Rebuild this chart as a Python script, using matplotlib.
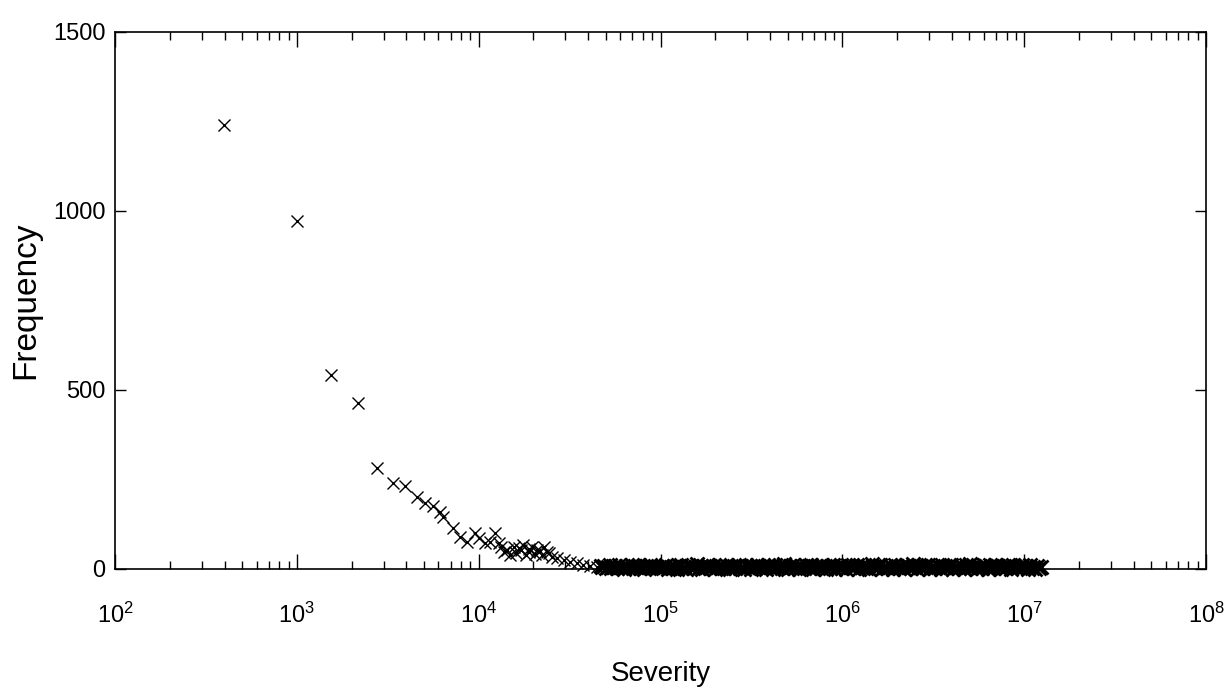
import matplotlib
matplotlib.use("Agg")
import matplotlib.pyplot as plt
from matplotlib.ticker import LogLocator, FixedLocator, NullLocator

plt.rcParams["font.family"] = ["Liberation Sans", "DejaVu Sans"]

# --- Data (severity, frequency) ---
head_severity = [
    395, 1000, 1545, 2173, 2754, 3373, 3944, 4575, 5077, 5641, 6137, 6400,
    7265, 7906, 8605, 9570, 9980, 10860, 11570, 12330, 12860, 13200, 13690,
    14290, 14800, 15540, 16000, 16560, 17000, 17630, 18200, 18790, 19000,
    19630, 20300, 20910, 21800, 22200, 22720, 23710, 24500, 25280, 26930,
    29270, 31860, 34660, 37690, 41020, 44650,
]
head_frequency = [
    1238, 972, 542, 463, 281, 239, 231, 200, 183, 176, 158, 146,
    114, 90, 76, 100, 86, 72, 76, 100, 72, 60, 48,
    53, 38, 62, 45, 58, 52, 67, 40, 48, 55,
    62, 42, 53, 50, 38, 62, 48, 45, 34, 30,
    25, 20, 16, 11, 8, 6,
]

# dense band of low counts, 4.7e4 .. 1.2e7
tail_severity = [
    4.68e4, 4.77e4, 4.89e4, 5.02e4, 5.12e4, 5.26e4, 5.36e4, 5.51e4, 5.61e4,
    5.76e4, 5.88e4, 6.04e4, 6.16e4, 6.32e4, 6.45e4, 6.62e4, 6.75e4, 6.93e4,
    7.07e4, 7.25e4, 7.40e4, 7.60e4, 7.75e4, 7.95e4, 8.12e4, 8.33e4, 8.50e4,
    8.72e4, 8.90e4, 9.13e4, 9.32e4, 9.56e4, 9.76e4,
    1.00e5, 1.02e5, 1.05e5, 1.07e5, 1.10e5, 1.12e5, 1.15e5, 1.18e5, 1.20e5,
    1.23e5, 1.26e5, 1.29e5, 1.32e5, 1.35e5, 1.38e5, 1.41e5, 1.45e5, 1.48e5,
    1.51e5, 1.55e5, 1.58e5, 1.62e5, 1.66e5, 1.70e5, 1.74e5, 1.78e5, 1.82e5,
    1.86e5, 1.91e5, 1.95e5, 2.00e5, 2.04e5, 2.09e5, 2.14e5, 2.19e5, 2.24e5,
    2.29e5, 2.34e5, 2.40e5, 2.45e5, 2.51e5, 2.57e5, 2.63e5, 2.69e5, 2.75e5,
    2.82e5, 2.88e5, 2.95e5, 3.02e5, 3.09e5, 3.16e5, 3.24e5, 3.31e5, 3.39e5,
    3.47e5, 3.55e5, 3.63e5, 3.72e5, 3.80e5, 3.89e5, 3.98e5, 4.07e5, 4.17e5,
    4.27e5, 4.37e5, 4.47e5, 4.57e5, 4.68e5, 4.79e5, 4.90e5, 5.01e5, 5.13e5,
    5.25e5, 5.37e5, 5.50e5, 5.62e5, 5.75e5, 5.89e5, 6.03e5, 6.17e5, 6.31e5,
    6.46e5, 6.61e5, 6.76e5, 6.92e5, 7.08e5, 7.24e5, 7.41e5, 7.59e5, 7.76e5,
    7.94e5, 8.13e5, 8.32e5, 8.51e5, 8.71e5, 8.91e5, 9.12e5, 9.33e5, 9.55e5,
    9.77e5,
    1.00e6, 1.02e6, 1.05e6, 1.07e6, 1.10e6, 1.12e6, 1.15e6, 1.18e6, 1.20e6,
    1.23e6, 1.26e6, 1.29e6, 1.32e6, 1.35e6, 1.38e6, 1.41e6, 1.45e6, 1.48e6,
    1.51e6, 1.55e6, 1.58e6, 1.62e6, 1.66e6, 1.70e6, 1.74e6, 1.78e6, 1.82e6,
    1.86e6, 1.91e6, 1.95e6, 2.00e6, 2.04e6, 2.09e6, 2.14e6, 2.19e6, 2.24e6,
    2.29e6, 2.34e6, 2.40e6, 2.45e6, 2.51e6, 2.57e6, 2.63e6, 2.69e6, 2.75e6,
    2.82e6, 2.88e6, 2.95e6, 3.02e6, 3.09e6, 3.16e6, 3.24e6, 3.31e6, 3.39e6,
    3.47e6, 3.55e6, 3.63e6, 3.72e6, 3.80e6, 3.89e6, 3.98e6, 4.07e6, 4.17e6,
    4.27e6, 4.37e6, 4.47e6, 4.57e6, 4.68e6, 4.79e6, 4.90e6, 5.01e6, 5.13e6,
    5.25e6, 5.37e6, 5.50e6, 5.62e6, 5.75e6, 5.89e6, 6.03e6, 6.17e6, 6.31e6,
    6.46e6, 6.61e6, 6.76e6, 6.92e6, 7.08e6, 7.24e6, 7.41e6, 7.59e6, 7.76e6,
    7.94e6, 8.13e6, 8.32e6, 8.51e6, 8.71e6, 8.91e6, 9.12e6, 9.33e6, 9.55e6,
    9.77e6,
    1.00e7, 1.02e7, 1.05e7, 1.07e7, 1.10e7, 1.12e7, 1.15e7, 1.18e7, 1.20e7,
    1.23e7,
]
tail_frequency = [
    7, 4, 9, 3, 6, 10, 2, 5, 8, 3, 12, 4, 6, 1, 9, 5, 3, 11, 2, 7, 4, 10, 3,
    6, 1, 8, 5, 12, 2, 4, 9, 3, 6,
    2, 8, 4, 11, 1, 6, 3, 9, 5, 0, 7, 12, 3, 5, 1, 10, 4, 8, 2, 6,
    13, 3, 7, 1, 9, 4, 11, 2, 5, 8, 0, 6, 10, 3, 7, 2, 12, 4, 1, 9,
    5, 3, 8, 11, 2, 6, 0, 10, 4, 7, 1, 9, 3, 12, 5, 2, 8, 6, 1, 11,
    4, 7, 0, 10, 3, 9, 5, 2, 13, 6, 1, 8, 4, 11, 3, 7, 0, 9, 5, 2,
    12, 6, 3, 10, 1, 8, 4, 7, 2, 11, 5, 0, 9, 3, 6, 12, 1, 8, 4, 10,
    3, 7, 1, 11, 5, 9, 2, 6, 12, 0, 8, 4, 10, 3, 7, 1, 13, 5, 2, 9,
    6, 11, 0, 4, 8, 3, 12, 7, 1, 10, 5, 2, 9, 6, 0, 11, 4, 8, 3, 13,
    7, 1, 10, 5, 2, 9, 6, 12, 0, 4, 8, 3, 11, 7, 1, 10, 5, 2, 9, 6,
    12, 0, 4, 8, 3, 11, 7, 1, 10, 5, 13, 2, 9, 6, 0, 4, 8, 3, 12, 7,
    1, 10, 5, 2, 11, 9, 6, 0, 4, 8, 3, 12, 7, 1, 10, 5, 2, 9, 6, 11,
    4, 8, 1, 10, 3, 6, 0, 9, 2, 5,
]

x_ticks = [1e2, 1e3, 1e4, 1e5, 1e6, 1e7, 1e8]
y_ticks = [0, 500, 1000, 1500]

fig = plt.figure(figsize=(12.24, 6.98), dpi=100)
ax = fig.add_axes([0.094, 0.185, 0.8913, 0.7697])

# --- Plot ---
ax.plot(head_severity, head_frequency,
        "x", color="black", ms=8.5, mew=1.0, clip_on=False)
# the band is so dense it reads as a solid bar
ax.plot(tail_severity, tail_frequency,
        "x", color="black", ms=10, mew=2.0, clip_on=False)

ax.set_xscale("log")
ax.set_xlim(1e2, 1e8)
ax.set_ylim(0, 1500)

# --- Ticks ---
ax.xaxis.set_major_locator(FixedLocator(x_ticks))
ax.xaxis.set_minor_locator(LogLocator(base=10, subs=range(2, 10), numticks=20))
ax.yaxis.set_major_locator(FixedLocator(y_ticks))
ax.yaxis.set_minor_locator(NullLocator())

ax.tick_params(which="both", direction="in", top=True, right=True,
               width=1.0, colors="black")
ax.tick_params(axis="x", which="major", length=11, pad=24, labelsize=17)
ax.tick_params(axis="x", which="minor", length=5.5)
ax.tick_params(axis="y", which="major", length=8, pad=7, labelsize=17)

for s in ax.spines.values():
    s.set_linewidth(1.2)

# --- Labels ---
ax.set_xlabel("Severity", fontsize=20, labelpad=24)
ax.set_ylabel("Frequency", fontsize=24, labelpad=8)

fig.savefig("out.png", dpi=100, facecolor="white")
